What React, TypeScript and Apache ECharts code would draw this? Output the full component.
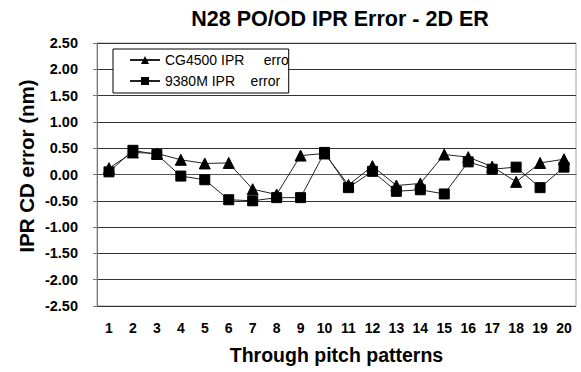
import React, { useEffect, useRef } from "react";
import * as echarts from "echarts";

const categories = ["1","2","3","4","5","6","7","8","9","10","11","12","13","14","15","16","17","18","19","20"];
const cg4500 = [0.12, 0.42, 0.40, 0.28, 0.21, 0.22, -0.28, -0.38, 0.36, 0.40, -0.20, 0.16, -0.21, -0.17, 0.38, 0.33, 0.15, -0.14, 0.22, 0.29];
const m9380 = [0.05, 0.46, 0.38, -0.03, -0.10, -0.48, -0.50, -0.44, -0.44, 0.42, -0.25, 0.06, -0.32, -0.29, -0.37, 0.24, 0.10, 0.14, -0.25, 0.14];
const seriesNames = ["CG4500 IPR     error", "9380M IPR    error"];
const chartTitle = "N28 PO/OD IPR Error - 2D ER";
const xTitle = "Through pitch patterns";
const yTitle = "IPR CD error (nm)";

export default function App() {
  const ref = useRef<HTMLDivElement>(null);
  useEffect(() => {
    const chart = echarts.init(ref.current!, null, { renderer: "svg" });
    const font = "Arial, 'Liberation Sans', sans-serif";
    chart.setOption({
      animation: false,
      backgroundColor: "#fff",
      title: {
        text: chartTitle,
        left: 335,
        textAlign: "center",
        top: 3,
        textStyle: { fontFamily: font, fontSize: 21.5, fontWeight: "bold", color: "#000" },
      },
      graphic: [
        {
          type: "text",
          x: 26,
          y: 166,
          rotation: Math.PI / 2,
          style: {
            text: yTitle,
            fontFamily: font,
            fontSize: 20.5,
            fontWeight: "bold",
            fill: "#000",
            align: "center",
            verticalAlign: "middle",
          },
        },
      ],
      legend: {
        left: 113,
        top: 49,
        orient: "vertical",
        backgroundColor: "#fff",
        borderColor: "#000",
        borderWidth: 1,
        borderRadius: 0,
        padding: [4, 0, 5, 16],
        itemGap: 7,
        itemWidth: 30,
        itemHeight: 10,
        textStyle: { fontFamily: font, fontSize: 14, color: "#000", width: 129, overflow: "truncate", ellipsis: "" },
        data: seriesNames,
      },
      grid: {
        left: 97,
        right: 5,
        top: 43,
        bottom: 66,
        show: true,
        borderColor: "#a0a0a0",
        borderWidth: 1,
      },
      xAxis: {
        type: "category",
        data: categories,
        boundaryGap: true,
        name: xTitle,
        nameLocation: "middle",
        nameGap: 39,
        nameTextStyle: { fontFamily: font, fontSize: 19.5, fontWeight: "bold", color: "#000" },
        axisLine: { lineStyle: { color: "#555", width: 1 } },
        axisTick: { inside: true, length: 4, lineStyle: { color: "#555" } },
        axisLabel: { fontFamily: font, fontSize: 14, fontWeight: "bold", color: "#000", margin: 15 },
      },
      yAxis: {
        type: "value",
        min: -2.5,
        max: 2.5,
        interval: 0.5,
        axisLine: { show: true, lineStyle: { color: "#777", width: 1 } },
        axisTick: { show: true, length: 4, lineStyle: { color: "#777" } },
        axisLabel: {
          fontFamily: font,
          fontSize: 14.5,
          fontWeight: "bold",
          color: "#000",
          margin: 19,
          formatter: (v: number) => v.toFixed(2),
        },
        splitLine: { lineStyle: { color: "#333", width: 1 } },
      },
      series: [
        {
          name: seriesNames[0],
          type: "line",
          data: cg4500,
          symbol: "triangle",
          symbolSize: 11,
          lineStyle: { color: "#222", width: 1 },
          itemStyle: { color: "#000", borderColor: "#000" },
        },
        {
          name: seriesNames[1],
          type: "line",
          data: m9380,
          symbol: "rect",
          symbolSize: 10,
          lineStyle: { color: "#222", width: 1 },
          itemStyle: { color: "#000", borderColor: "#000" },
        },
      ],
    });
    return () => chart.dispose();
  }, []);
  return <div ref={ref} style={{ width: 581, height: 372, position: "absolute", left: 0, top: 0 }} />;
}
